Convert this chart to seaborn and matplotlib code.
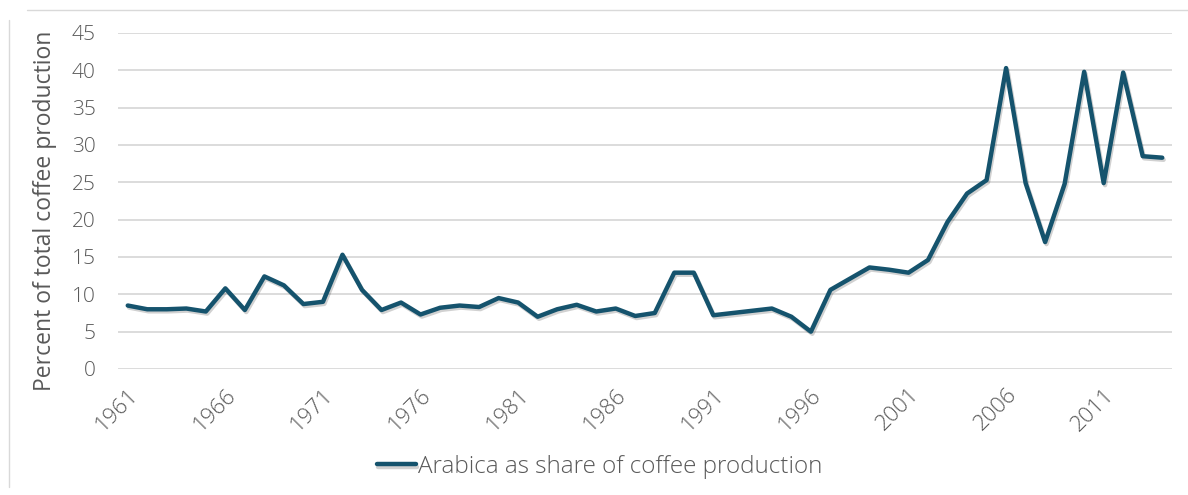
import matplotlib
matplotlib.use("Agg")
import matplotlib.pyplot as plt
import matplotlib.patheffects as pe
from matplotlib.lines import Line2D
import pandas as pd
import seaborn as sns

# Data
years = list(range(1961, 2015))
arabica_share = [
    8.5, 8.0, 8.0, 8.1, 7.7, 10.8, 7.9, 12.4, 11.2, 8.7,
    9.0, 15.3, 10.6, 7.9, 8.9, 7.3, 8.2, 8.5, 8.3, 9.5,
    8.9, 7.0, 8.0, 8.6, 7.7, 8.1, 7.1, 7.5, 12.9, 12.9,
    7.2, 7.5, 7.8, 8.1, 7.0, 5.0, 10.6, 12.1, 13.6, 13.3,
    12.9, 14.6, 19.7, 23.5, 25.3, 40.3, 24.9, 17.0, 24.8, 39.8,
    24.9, 39.7, 28.5, 28.3,
]
series_name = "Arabica as share of coffee production"
tick_years = list(range(1961, 2012, 5))
y_ticks = list(range(0, 50, 5))

df = pd.DataFrame({"year": years, "share": arabica_share})

sns.set_style("white")
plt.rcParams["font.family"] = ["Open Sans", "DejaVu Sans"]
plt.rcParams["font.weight"] = "light"
text_color = "#595959"
line_color = "#15536D"

fig = plt.figure(figsize=(11.88, 4.95), dpi=100)
ax = fig.add_axes([118 / 1188, 1 - 369 / 495, (1172 - 118) / 1188, (369 - 33) / 495])

sns.lineplot(data=df, x="year", y="share", ax=ax, color=line_color,
             linewidth=3.2, label=series_name,
             path_effects=[pe.SimpleLineShadow(offset=(1, -1.5), shadow_color="black", alpha=0.18),
                           pe.Normal()])

ax.set_xlim(1960.5, 2014.5)
ax.set_ylim(0, 45)
ax.set_yticks(y_ticks)
ax.set_xticks(tick_years)
ax.set_xticklabels([str(y) for y in tick_years], rotation=45, ha="right",
                   rotation_mode="anchor", fontsize=16, color=text_color)
ax.set_yticklabels([str(v) for v in y_ticks], fontsize=15, color=text_color)
ax.tick_params(axis="y", length=0, pad=16)
ax.tick_params(axis="x", length=0, pad=11)

ax.grid(axis="y", color="#D9D9D9", linewidth=1.3)
ax.set_axisbelow(True)
for s in ax.spines.values():
    s.set_visible(False)

ax.set_xlabel("")
ax.set_ylabel("Percent of total coffee production", fontsize=16.5, color=text_color)
ax.yaxis.set_label_coords(-0.058, 0.47)

leg = ax.legend(loc="center", bbox_to_anchor=(0.505, 1 - 467 / 495), bbox_transform=fig.transFigure,
                frameon=False, fontsize=17.5, handlelength=1.6, handletextpad=0.1)
for t in leg.get_texts():
    t.set_color(text_color)

# chart border remnants (top and left)
fig.add_artist(Line2D([27 / 1188, 1.0], [1 - 10 / 495, 1 - 10 / 495],
                      transform=fig.transFigure, color="#D9D9D9", linewidth=1))
fig.add_artist(Line2D([9 / 1188, 9 / 1188], [1 - 20 / 495, 1 - 487 / 495],
                      transform=fig.transFigure, color="#D9D9D9", linewidth=1))

fig.savefig("out.png", dpi=100)
